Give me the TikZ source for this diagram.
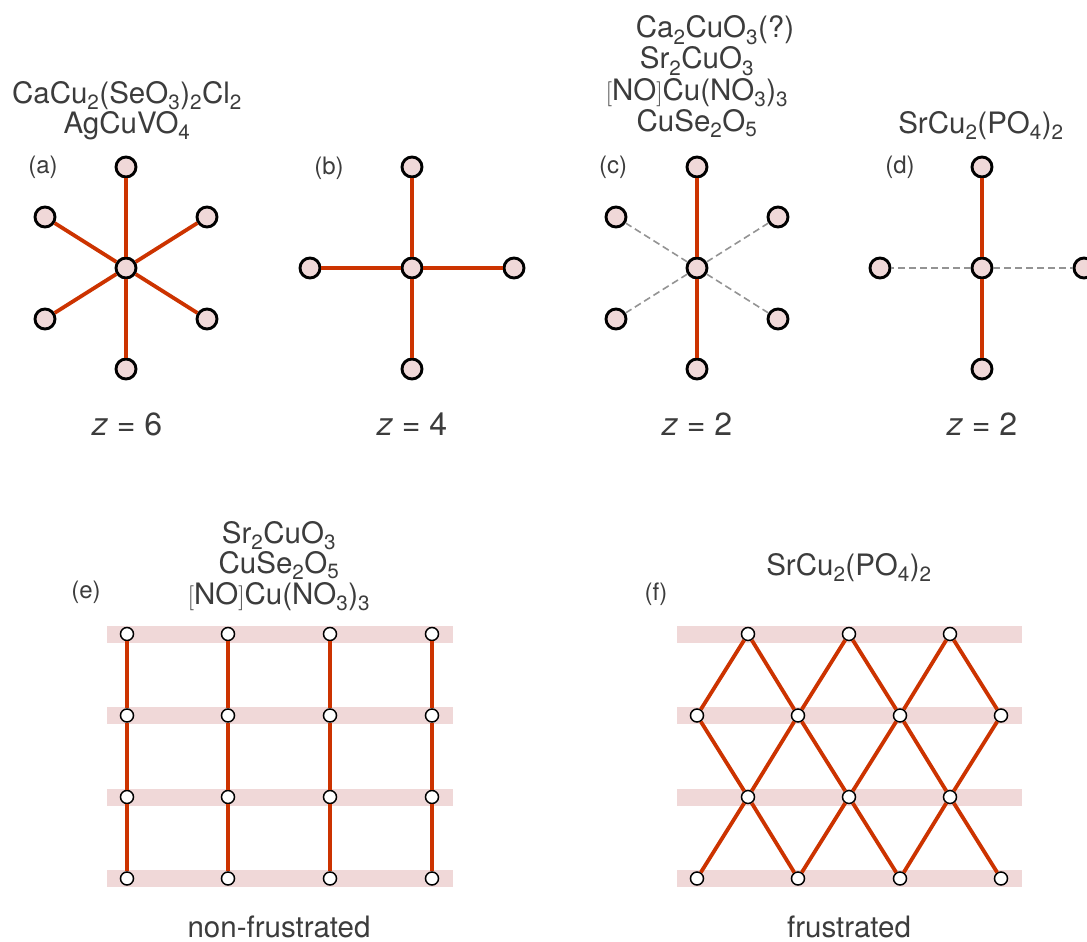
\documentclass[tikz,border=0pt]{standalone}
\usepackage{fontspec}
\setmainfont{TeX Gyre Heros}
\usetikzlibrary{positioning}
\definecolor{bondred}{RGB}{204,51,0}
\definecolor{sitepink}{RGB}{240,216,216}
\definecolor{inkgray}{RGB}{60,60,60}
\newcommand{\chsub}[1]{\textsubscript{#1}}

\tikzset{
  site/.style={circle, draw=black, line width=2.9pt, fill=sitepink, minimum size=20pt, inner sep=0pt},
  spin/.style={circle, draw=black, line width=1.5pt, fill=white, minimum size=13pt, inner sep=0pt},
  bond/.style={draw=bondred, line width=3.8pt},
  weak/.style={draw=gray!85, line width=1.6pt, dash pattern=on 7pt off 4pt},
  band/.style={fill=sitepink},
  formula/.style={font=\fontsize{29.5}{31}\selectfont, text=inkgray, anchor=base, inner sep=0pt,
    text height=21pt, text depth=5pt},
  tag/.style={font=\fontsize{24}{26}\selectfont, text=inkgray, inner sep=0pt},
  zlabel/.style={font=\fontsize{32}{34}\selectfont, text=inkgray, anchor=base, inner sep=0pt},
}

\begin{document}
\begin{tikzpicture}[x=1pt, y=-1pt]
  \useasboundingbox (0,0) rectangle (1087,942);

  % top row: coordination of one Cu site
  \node[site] (a0) at (126,268) {};
  \foreach \n/\dx/\dy in {1/0/-101, 2/81/-51, 3/81/51, 4/0/101, 5/-81/51, 6/-81/-51}{
    \node[site] (a\n) at (126+\dx,268+\dy) {};
    \draw[bond] (a0) -- (a\n);
  }
  \node[site] (b0) at (412,268) {};
  \foreach \n/\dx/\dy in {1/0/-101, 2/102/0, 3/0/101, 4/-102/0}{
    \node[site] (b\n) at (412+\dx,268+\dy) {};
    \draw[bond] (b0) -- (b\n);
  }
  \node[site] (c0) at (697,268) {};
  \foreach \n/\dx/\dy/\s in {1/0/-101/bond, 2/81/-51/weak, 3/81/51/weak, 4/0/101/bond, 5/-81/51/weak, 6/-81/-51/weak}{
    \node[site] (c\n) at (697+\dx,268+\dy) {};
    \draw[\s] (c0) -- (c\n);
  }
  \node[site] (d0) at (982,268) {};
  \foreach \n/\dx/\dy/\s in {1/0/-101/bond, 2/102/0/weak, 3/0/101/bond, 4/-102/0/weak}{
    \node[site] (d\n) at (982+\dx,268+\dy) {};
    \draw[\s] (d0) -- (d\n);
  }

  \node[tag] (tga) at (43,167) {(a)};
  \node[tag] (tgb) at (329,168) {(b)};
  \node[tag] (tgc) at (613,167) {(c)};
  \node[tag] (tgd) at (900,167) {(d)};

  \node[formula] (fa1) at (127,103) {CaCu\chsub{2}(SeO\chsub{3})\chsub{2}Cl\chsub{2}};
  \node[formula] (fa2) at (127,133) {AgCuVO\chsub{4}};
  \node[formula] (fc1) at (697,38) {Ca\chsub{2}CuO\chsub{3}\rlap{(?)}};
  \node[formula] (fc2) at (697,69) {Sr\chsub{2}CuO\chsub{3}};
  \node[formula] (fc3) at (697,100) {$[$NO$]$Cu(NO\chsub{3})\chsub{3}};
  \node[formula] (fc4) at (697,131) {CuSe\chsub{2}O\chsub{5}};
  \node[formula] (fd1) at (981,133) {SrCu\chsub{2}(PO\chsub{4})\chsub{2}};

  \foreach \p/\x/\z in {a/127/6, b/412/4, c/697/2, d/982/2}
    \node[zlabel] (z\p) at (\x,435) {\textit{z} = \z};

  % bottom row: chains in the plane
  \foreach \y in {634,715.5,797,878.5}{
    \fill[band] (107,\y-8.5) rectangle (453,\y+8.5);
    \fill[band] (677,\y-8.5) rectangle (1022,\y+8.5);
  }
  \foreach \c/\x in {1/127,2/228,3/330,4/432}{
    \foreach \r/\y in {1/634,2/715.5,3/797,4/878.5}
      \node[spin] (e\r\c) at (\x,\y) {};
    \draw[bond] (e1\c) -- (e2\c) -- (e3\c) -- (e4\c);
  }
  \foreach \c/\x in {1/748,2/849,3/950}{
    \node[spin] (f1\c) at (\x,634) {};
    \node[spin] (f3\c) at (\x,797) {};
  }
  \foreach \c/\x in {1/697,2/798,3/900,4/1001}{
    \node[spin] (f2\c) at (\x,715.5) {};
    \node[spin] (f4\c) at (\x,878.5) {};
  }
  \foreach \c [evaluate=\c as \d using int(\c+1)] in {1,2,3}{
    \draw[bond] (f2\c) -- (f1\c) -- (f2\d);
    \draw[bond] (f2\c) -- (f3\c) -- (f2\d);
    \draw[bond] (f4\c) -- (f3\c) -- (f4\d);
  }

  \node[tag] (tge) at (86,592) {(e)};
  \node[tag] (tgf) at (656,594) {(f)};
  \node[formula] (fe1) at (279,543) {Sr\chsub{2}CuO\chsub{3}};
  \node[formula] (fe2) at (279,573) {CuSe\chsub{2}O\chsub{5}};
  \node[formula] (fe3) at (279,604) {$[$NO$]$Cu(NO\chsub{3})\chsub{3}};
  \node[formula] (ff1) at (849,575) {SrCu\chsub{2}(PO\chsub{4})\chsub{2}};
  \node[formula] (nfr) at (279,937) {non-frustrated};
  \node[formula] (fr) at (849,937) {frustrated};
\end{tikzpicture}
\end{document}
